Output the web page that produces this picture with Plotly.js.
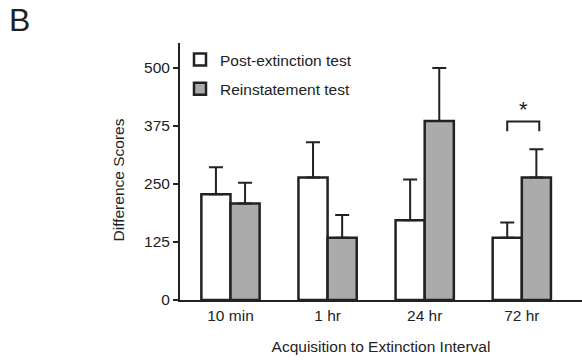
<!DOCTYPE html>
<html>
<head>
<meta charset="utf-8">
<script src="https://cdn.plot.ly/plotly-3.0.1.min.js"></script>
<style>html,body{margin:0;padding:0;background:#fff;}#chart{width:582px;height:360px;}</style>
</head>
<body>
<div id="chart"></div>
<script>
const categories = ['10 min', '1 hr', '24 hr', '72 hr'];
const postMeans = [228, 264, 172, 134];
const postSEM = [58, 76, 88, 33];
const reinMeans = [208, 134, 386, 264];
const reinSEM = [45, 49, 114, 61];
const yTickVals = [0, 125, 250, 375, 500];
const seriesNames = ['Post-extinction test', 'Reinstatement test'];

const ink = '#222222';
const fontFam = '"Liberation Sans", Arial, sans-serif';
const fs = 15.5;

function zeros(n) { return new Array(n).fill(0); }

const traces = [
  {
    type: 'bar', name: seriesNames[0], x: categories, y: postMeans,
    legendgroup: 'a',
    marker: { color: '#ffffff', line: { color: ink, width: 2.5 } },
    error_y: { type: 'data', symmetric: false, array: postSEM, arrayminus: zeros(postSEM.length), color: ink, thickness: 2, width: 7 }
  },
  {
    type: 'bar', name: seriesNames[1], x: categories, y: reinMeans,
    legendgroup: 'b',
    marker: { color: '#ababab', line: { color: ink, width: 2.5 } },
    error_y: { type: 'data', symmetric: false, array: reinSEM, arrayminus: zeros(reinSEM.length), color: ink, thickness: 2, width: 7 }
  }
];

// significance bracket over the last group
const sigIdx = 3;
const bracketTop = reinMeans[sigIdx] + reinSEM[sigIdx] + 60;
const bracketLeg = bracketTop - 21;

const layout = {
  width: 582, height: 360,
  margin: { l: 180, r: 0, t: 43, b: 60 },
  paper_bgcolor: '#ffffff', plot_bgcolor: '#ffffff',
  font: { family: fontFam, color: ink, size: fs },
  barmode: 'group', bargap: 0.4, bargroupgap: 0,
  showlegend: true,
  legend: {
    x: 0.0, y: 1.0, xanchor: 'left', yanchor: 'top',
    bgcolor: 'rgba(0,0,0,0)', font: { size: fs, family: fontFam, color: ink },
    traceorder: 'grouped', tracegroupgap: 6
  },
  xaxis: {
    type: 'category', range: [-0.52, 3.62],
    showline: true, linecolor: ink, linewidth: 2,
    ticks: '', showgrid: false, zeroline: false,
    tickfont: { size: fs },
    title: { text: 'Acquisition to Extinction Interval', font: { size: fs }, standoff: 19 }
  },
  yaxis: {
    range: [0, 554], tickvals: yTickVals, ticktext: yTickVals.map(String),
    showline: true, linecolor: ink, linewidth: 2,
    ticks: 'outside', ticklen: 5, tickwidth: 2, tickcolor: ink,
    showgrid: false, zeroline: false,
    tickfont: { size: fs }
  },
  shapes: [
    { type: 'path', xref: 'x', yref: 'y',
      path: `M ${sigIdx - 0.15} ${bracketLeg} L ${sigIdx - 0.15} ${bracketTop} L ${sigIdx + 0.18} ${bracketTop} L ${sigIdx + 0.18} ${bracketLeg}`,
      line: { color: ink, width: 2 } }
  ],
  annotations: [
    { xref: 'x', yref: 'y', x: sigIdx + 0.015, y: bracketTop - 5, text: '*', showarrow: false,
      yanchor: 'bottom', font: { size: 22, color: ink, family: fontFam } },
    { xref: 'paper', yref: 'paper', x: -0.153, y: 0.467, xanchor: 'center', yanchor: 'middle',
      text: 'Difference Scores', textangle: -90, showarrow: false, font: { size: fs, color: ink, family: fontFam } },
    { xref: 'paper', yref: 'paper', x: -0.43, y: 1.09, xanchor: 'left', yanchor: 'middle',
      text: 'B', showarrow: false, font: { size: 32, color: ink, family: fontFam } }
  ]
};

Plotly.newPlot('chart', traces, layout, { displayModeBar: false, staticPlot: true });
</script>
</body>
</html>
